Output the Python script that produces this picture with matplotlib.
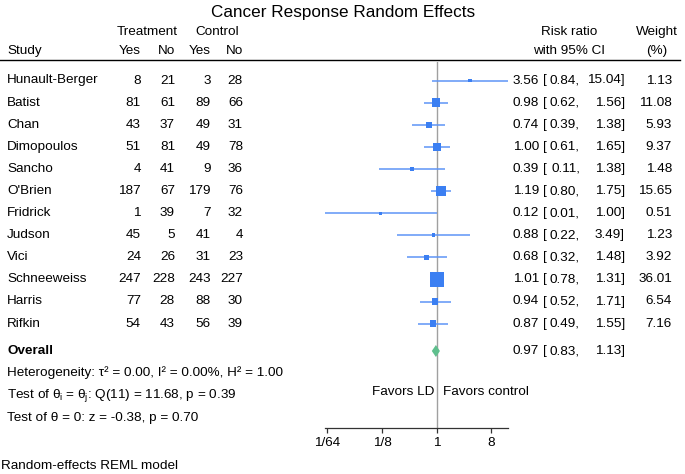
import numpy as np
import matplotlib
matplotlib.use("Agg")
import matplotlib.pyplot as plt
from matplotlib.patches import Polygon

plt.rcParams['font.family'] = ['Liberation Sans', 'DejaVu Sans']
plt.rcParams['mathtext.fontset'] = 'custom'
plt.rcParams['mathtext.rm'] = 'Liberation Sans'
plt.rcParams['mathtext.it'] = 'Liberation Sans'
plt.rcParams['mathtext.bf'] = 'Liberation Sans:bold'

studies = ["Hunault-Berger", "Batist", "Chan", "Dimopoulos", "Sancho", "O'Brien",
           "Fridrick", "Judson", "Vici", "Schneeweiss", "Harris", "Rifkin"]
trt_yes = [8, 81, 43, 51, 4, 187, 1, 45, 24, 247, 77, 54]
trt_no = [21, 61, 37, 81, 41, 67, 39, 5, 26, 228, 28, 43]
ctl_yes = [3, 89, 49, 49, 9, 179, 7, 41, 31, 243, 88, 56]
ctl_no = [28, 66, 31, 78, 36, 76, 32, 4, 23, 227, 30, 39]
rr = [3.56, 0.98, 0.74, 1.00, 0.39, 1.19, 0.12, 0.88, 0.68, 1.01, 0.94, 0.87]
rr_lo = [0.84, 0.62, 0.39, 0.61, 0.11, 0.80, 0.0143, 0.22, 0.32, 0.78, 0.52, 0.49]
rr_hi = [15.04, 1.56, 1.38, 1.65, 1.38, 1.75, 1.00, 3.49, 1.48, 1.31, 1.71, 1.55]
weight = [1.13, 11.08, 5.93, 9.37, 1.48, 15.65, 0.51, 1.23, 3.92, 36.01, 6.54, 7.16]
overall = (0.97, 0.83, 1.13)
tick_vals = [1 / 64, 1 / 8, 1, 8]
tick_labels = ["1/64", "1/8", "1", "8"]

W, H = 685, 474
FS = 9.7
BOX = "#3b7ff2"
LINE = "#5e95f7"
DIAMOND = "#5fbf8d"

fig = plt.figure(figsize=(W / 100, H / 100), dpi=100)


def px(x, y):
    return x / W, 1 - y / H


def ftext(x, y, s, ha="left", **kw):
    fx, fy = px(x, y)
    kw.setdefault("fontsize", FS)
    fig.text(fx, fy, s, ha=ha, va="center", **kw)


# forest axes, y in pixel rows
ax_l, ax_r, ax_t, ax_b = 325, 508, 62, 428
ax = fig.add_axes([ax_l / W, 1 - ax_b / H, (ax_r - ax_l) / W, (ax_b - ax_t) / H])
ax.set_xscale("log", base=2)
ax.set_xlim(min(rr_lo), max(rr_hi))
ax.set_ylim(ax_b, ax_t)
ax.patch.set_visible(False)
for s in ["top", "left", "right"]:
    ax.spines[s].set_visible(False)
ax.spines["bottom"].set_linewidth(0.9)
ax.spines["bottom"].set_color("#333333")
ax.set_yticks([])
ax.set_xticks(tick_vals)
ax.set_xticklabels(tick_labels, fontsize=FS)
ax.xaxis.set_minor_locator(matplotlib.ticker.NullLocator())
ax.tick_params(axis="x", length=3.5, width=0.9, color="#333333", pad=3)

row_y = 80.5 + 22.1 * np.arange(len(studies))
overall_y = 351

ax.axvline(1, color="#a0a0a0", lw=1.0, zorder=1)
ax.hlines(row_y, rr_lo, rr_hi, color=LINE, lw=1.1, zorder=2, clip_on=False)
ax.scatter(rr, row_y, s=np.array(weight) * 3.0 + 3, marker="s", color=BOX,
           linewidths=0, zorder=3, clip_on=False)
est, olo, ohi = overall
ax.add_patch(Polygon([(olo, overall_y), (est, overall_y - 6), (ohi, overall_y),
                      (est, overall_y + 6)], closed=True, color=DIAMOND, lw=0, zorder=3))

# title and header
ftext(343, 12, "Cancer Response Random Effects", ha="center", fontsize=12.3)
ftext(147, 32, "Treatment", ha="center")
ftext(217, 32, "Control", ha="center")
ftext(7, 51, "Study")
for x, s in zip([141, 175, 211, 243], ["Yes", "No", "Yes", "No"]):
    ftext(x, 51, s, ha="right")
ftext(569, 32, "Risk ratio", ha="center")
ftext(569, 51, "with 95% CI", ha="center")
ftext(657, 32, "Weight", ha="center")
ftext(657, 51, "(%)", ha="center")
fig.add_artist(plt.Line2D([0, 680 / W], [1 - 60 / H] * 2, color="black", lw=1.0))


def ci_text(y, e, lo, hi):
    ftext(539, y, f"{e:.2f}", ha="right")
    ftext(543, y, "[")
    ftext(580, y, f"{lo:.2f},", ha="right")
    ftext(625, y, f"{hi:.2f}]", ha="right")


for i, name in enumerate(studies):
    y = row_y[i]
    ftext(7, y, name)
    for x, v in zip([141, 175, 211, 243], [trt_yes[i], trt_no[i], ctl_yes[i], ctl_no[i]]):
        ftext(x, y, str(v), ha="right")
    ci_text(y, rr[i], rr_lo[i], rr_hi[i])
    ftext(672, y, f"{weight[i]:.2f}", ha="right")

ftext(7, overall_y, "Overall", fontweight="bold")
ci_text(overall_y, est, olo, ohi)
ftext(7, 373, "Heterogeneity: τ² = 0.00, I² = 0.00%, H² = 1.00")
ftext(7, 395, "Test of $\\theta_i$ = $\\theta_j$: Q(11) = 11.68, p = 0.39")
ftext(7, 418, "Test of θ = 0: z = -0.38, p = 0.70")
ftext(434, 392, "Favors LD", ha="right")
ftext(443, 392, "Favors control")
ftext(1, 466, "Random-effects REML model")

fig.savefig("out.png", dpi=100)
